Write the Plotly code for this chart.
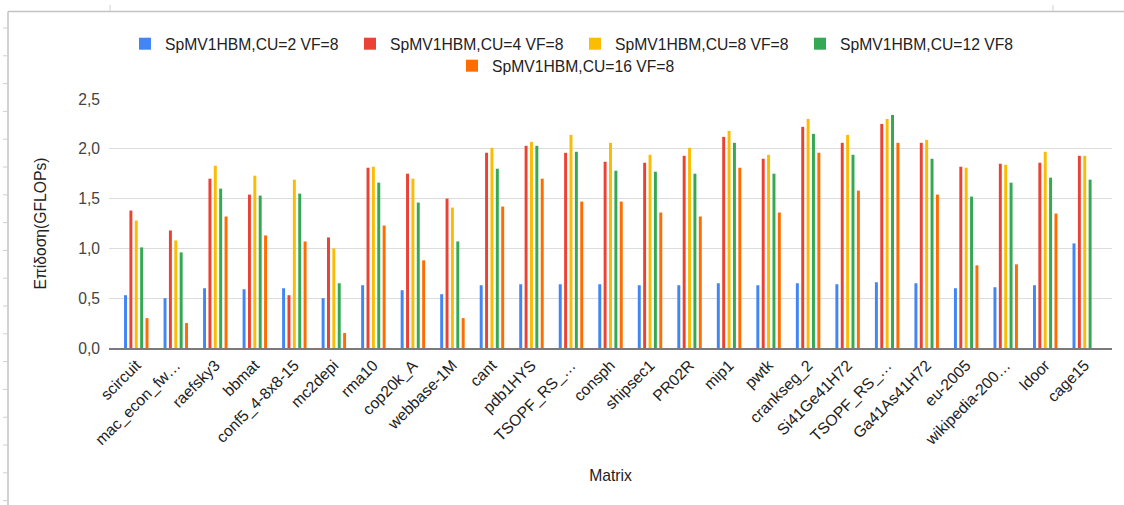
import plotly.graph_objects as go

# Matrix names as shown on the x axis (long names are truncated with an ellipsis)
matrices = [
    "scircuit", "mac_econ_fw…", "raefsky3", "bbmat", "conf5_4-8x8-15",
    "mc2depi", "rma10", "cop20k_A", "webbase-1M", "cant", "pdb1HYS",
    "TSOPF_RS_…", "consph", "shipsec1", "PR02R", "mip1", "pwtk",
    "crankseg_2", "Si41Ge41H72", "TSOPF_RS_…", "Ga41As41H72", "eu-2005",
    "wikipedia-200…", "ldoor", "cage15",
]

# Performance in GFLOPs for each configuration
cu2_vf8 = [0.53, 0.50, 0.60, 0.59, 0.60, 0.50, 0.63, 0.58, 0.54, 0.63, 0.64,
           0.64, 0.64, 0.63, 0.63, 0.65, 0.63, 0.65, 0.64, 0.66, 0.65, 0.60,
           0.61, 0.63, 1.05]
cu4_vf8 = [1.38, 1.18, 1.70, 1.54, 0.53, 1.11, 1.81, 1.75, 1.50, 1.96, 2.03,
           1.96, 1.87, 1.86, 1.93, 2.12, 1.90, 2.22, 2.06, 2.25, 2.06, 1.82,
           1.85, 1.86, 1.93]
cu8_vf8 = [1.28, 1.08, 1.83, 1.73, 1.69, 1.00, 1.82, 1.70, 1.41, 2.01, 2.07,
           2.14, 2.06, 1.94, 2.01, 2.18, 1.94, 2.30, 2.14, 2.30, 2.09, 1.81,
           1.84, 1.97, 1.93]
cu12_vf8 = [1.01, 0.96, 1.60, 1.53, 1.55, 0.65, 1.66, 1.46, 1.07, 1.80, 2.03,
            1.97, 1.78, 1.77, 1.75, 2.06, 1.75, 2.15, 1.94, 2.34, 1.90, 1.52,
            1.66, 1.71, 1.69]
cu16_vf8 = [0.30, 0.25, 1.32, 1.13, 1.07, 0.15, 1.23, 0.88, 0.30, 1.42, 1.70,
            1.47, 1.47, 1.36, 1.32, 1.81, 1.36, 1.96, 1.58, 2.06, 1.54, 0.83,
            0.84, 1.35, None]

series_names = [
    "SpMV1HBM,CU=2 VF=8", "SpMV1HBM,CU=4 VF=8", "SpMV1HBM,CU=8 VF=8",
    "SpMV1HBM,CU=12 VF8", "SpMV1HBM,CU=16 VF=8",
]
series_values = [cu2_vf8, cu4_vf8, cu8_vf8, cu12_vf8, cu16_vf8]
series_colors = ["#4285F4", "#EA4335", "#FBBC04", "#34A853", "#FF6D01"]
series_legends = ["legend", "legend", "legend", "legend", "legend2"]

y_tick_values = [0, 0.5, 1.0, 1.5, 2.0, 2.5]
y_tick_labels = ["0,0", "0,5", "1,0", "1,5", "2,0", "2,5"]

FONT = "Liberation Sans, Arial, sans-serif"
W, H = 1124, 505
L, R, T, B = 109, 12, 99, 157
PW, PH = W - L - R, H - T - B

positions = list(range(len(matrices)))

fig = go.Figure()
for name, vals, color, lg in zip(series_names, series_values, series_colors, series_legends):
    fig.add_trace(go.Bar(
        x=positions, y=vals, name=name, marker_color=color,
        marker_line_width=0, legend=lg,
    ))


def px(x):
    return (x - L) / PW


def py(y):
    return (H - B - y) / PH


# light sheet frame around the chart area
frame = "#c3c3c3"
shapes = [
    dict(type="line", xref="paper", yref="paper", x0=px(8), x1=px(W), y0=py(11.5), y1=py(11.5),
         line=dict(color=frame, width=1.5)),
    dict(type="line", xref="paper", yref="paper", x0=px(8), x1=px(8), y0=py(11.5), y1=py(H),
         line=dict(color=frame, width=1.5)),
]
for k in range(18):
    yy = 28 + 27.8 * k
    shapes.append(dict(type="line", xref="paper", yref="paper", x0=px(3), x1=px(8),
                       y0=py(yy), y1=py(yy), line=dict(color="#d0d0d0", width=1)))
for xx in (110, 1053):
    shapes.append(dict(type="line", xref="paper", yref="paper", x0=px(xx), x1=px(xx),
                       y0=py(5), y1=py(11), line=dict(color="#d0d0d0", width=1)))

fig.update_layout(
    width=W, height=H,
    margin=dict(l=L, r=R, t=T, b=B, autoexpand=False),
    paper_bgcolor="white", plot_bgcolor="white",
    font=dict(family=FONT, size=15.7, color="#222222"),
    barmode="group", bargap=0.32, bargroupgap=0.45,
    shapes=shapes,
    legend=dict(orientation="h", x=px(575), xanchor="center", y=py(44), yanchor="middle",
                font=dict(size=15.7, color="#222222"), itemclick=False, bgcolor="rgba(0,0,0,0)",
                itemwidth=30, entrywidth=180, entrywidthmode="pixels"),
    legend2=dict(orientation="h", x=px(566), xanchor="center", y=py(66), yanchor="middle",
                 font=dict(size=15.7, color="#222222"), itemclick=False, bgcolor="rgba(0,0,0,0)",
                 itemwidth=30),
    showlegend=True,
)

# side padding so the first and last groups sit a little inside the grid
pad = 7.5 / 39.5
fig.update_xaxes(
    range=[-0.5 - pad, len(matrices) - 0.5 + pad],
    tickmode="array", tickvals=positions, ticktext=matrices, tickangle=-45,
    tickfont=dict(size=15.7, color="#222222"),
    showgrid=False, zeroline=False,
    showline=True, linecolor="#7a7a7a", linewidth=2,
    ticks="", automargin=False,
    title=dict(text="Matrix", font=dict(size=15.7, color="#222222"), standoff=22),
)
fig.update_yaxes(
    range=[0, 2.5], tickmode="array", tickvals=y_tick_values, ticktext=y_tick_labels,
    tickfont=dict(size=15.7, color="#444444"),
    showgrid=True, gridcolor="#dcdcdc", gridwidth=1.3,
    zeroline=False, showline=False, ticks="", ticklabelstandoff=8,
    automargin=False,
    title=dict(text="Επίδοση(GFLOPs)", font=dict(size=15.7, color="#222222"), standoff=27),
)

fig.write_html("out.html")
